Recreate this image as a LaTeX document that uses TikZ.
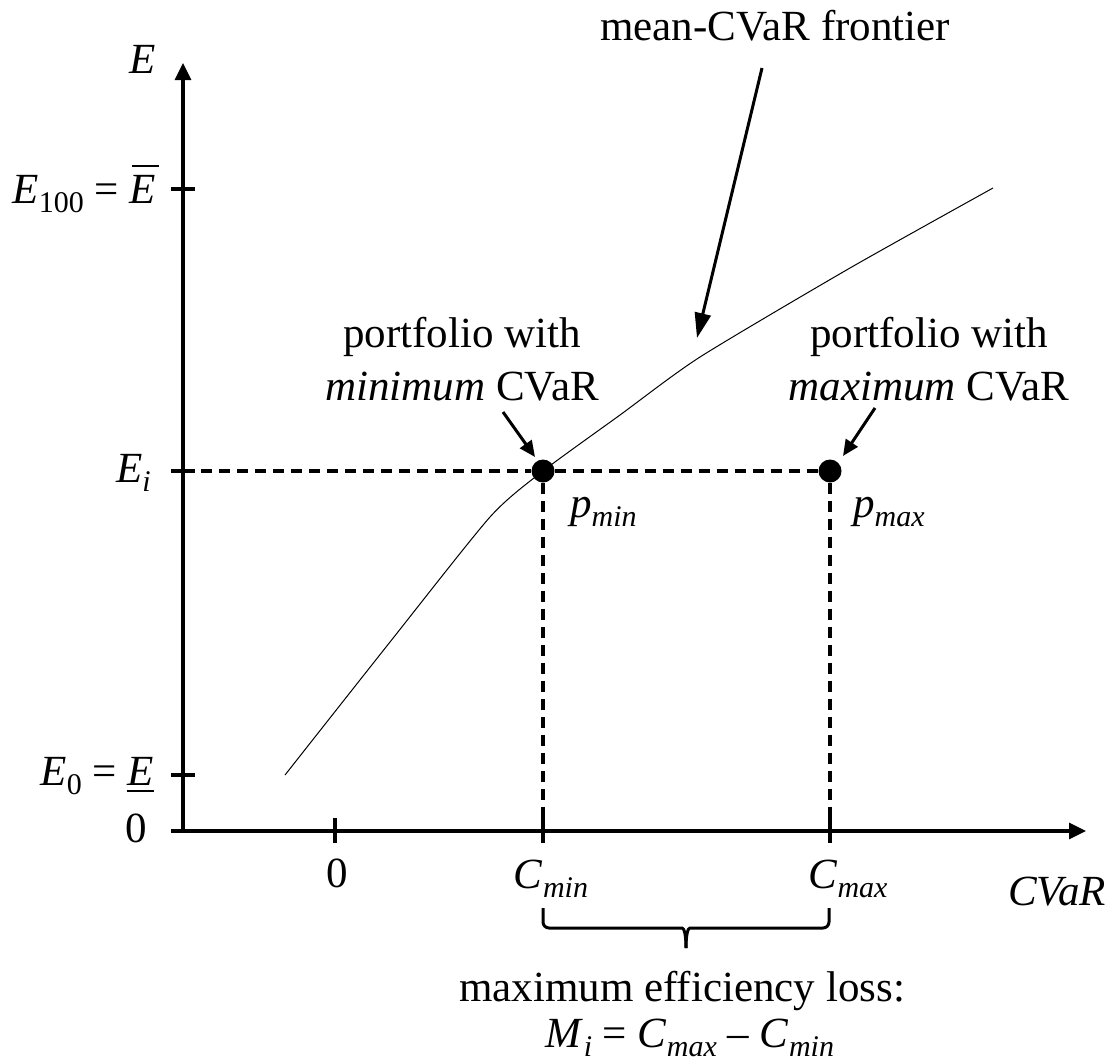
\documentclass[tikz,border=0pt]{standalone}
\usepackage{fontspec}
\setmainfont{Liberation Serif}
\usetikzlibrary{arrows.meta}
\newcommand\sbs[1]{\raisebox{-9pt}{\fontsize{30}{30}\selectfont #1}}
\newcommand\isbs[1]{\raisebox{-9pt}{\fontsize{30}{30}\selectfont\itshape #1}}
\newcommand\ovE{\rlap{\hspace{2pt}\rule[36pt]{27pt}{2.2pt}}\textit{E}}
\newcommand\unE{\rlap{\hspace{-1pt}\rule[-7pt]{27pt}{2.2pt}}\textit{E}}
\begin{document}
\begin{tikzpicture}[x=1pt,y=-1pt,
  lbl/.style={inner sep=0pt, font=\fontsize{43}{52}\selectfont},
  axisline/.style={line width=3.2pt, -{Triangle[length=17pt,width=16pt]}},
  tickline/.style={line width=3.2pt},
  guide/.style={line width=3.2pt, dash pattern=on 11pt off 7pt},
  frontier/.style={line width=1pt},
  pointer/.style={line width=3pt, -{Triangle[length=16pt,width=14pt]}},
  bigpointer/.style={line width=3pt, -{Triangle[length=25pt,width=16pt]}},
  bracepath/.style={line width=3pt},
  dot/.style={circle, fill=black, inner sep=0pt, minimum size=23pt}]
\useasboundingbox (0,0) rectangle (1110,1063);

% axes
\coordinate (O) at (183,831);
\coordinate (xs) at (171,831);
\coordinate (xe) at (1086,831);
\coordinate (ye) at (183,63);
\draw[axisline] (O) -- (ye);
\draw[axisline] (xs) -- (xe);

% ticks
\foreach \yy in {189,471,775} \draw[tickline] (171,\yy) -- (195,\yy);
\foreach \xx in {335,543,830} \draw[tickline] (\xx,818) -- (\xx,843);

% frontier
\draw[frontier] plot[smooth, tension=0.4] coordinates {(285,775) (390,642) (490,517) (543,471) (620,415) (700,357) (850,268) (993,188)};

% points
\node[dot] (pmin) at (543,471) {};
\node[dot] (pmax) at (830,471) {};
\coordinate (Ei) at (183,471);
\coordinate (Cmin) at (543,831);
\coordinate (Cmax) at (830,831);
\draw[guide] (Ei) -- (pmin);
\draw[guide] (pmin) -- (pmax);
\draw[guide] (pmin) -- (Cmin);
\draw[guide] (pmax) -- (Cmax);

% axis labels
\node[lbl, anchor=base east] (lE) at (156,73) {\textit{E}};
\node[lbl, anchor=base east] (lE100) at (156,203) {\textit{E}\sbs{100} = \ovE};
\node[lbl, anchor=base east] (lEi) at (151,482) {\textit{E}\isbs{i}};
\node[lbl, anchor=base east] (lE0) at (154,785) {\textit{E}\sbs{0} = \unE};
\node[lbl, anchor=base east] (lzy) at (147,842) {0};
\node[lbl, anchor=base] (lzx) at (337,887) {0};
\node[lbl, anchor=base] (lCmin) at (551,888) {\textit{C}\isbs{min}};
\node[lbl, anchor=base] (lCmax) at (848,888) {\textit{C}\isbs{max}};
\node[lbl, anchor=base west] (lCVaR) at (1008,905) {\textit{CVaR}};
\node[lbl, anchor=base west] (lpmin) at (570,517) {\textit{p}\isbs{min}};
\node[lbl, anchor=base west] (lpmax) at (853,517) {\textit{p}\isbs{max}};

% annotations
\node[lbl, anchor=base] (lfront) at (775,40) {mean-CVaR frontier};
\node[lbl, anchor=base] (lmin1) at (462,347) {portfolio with};
\node[lbl, anchor=base] (lmin2) at (462,400) {\textit{minimum} CVaR};
\node[lbl, anchor=base] (lmax1) at (929,347) {portfolio with};
\node[lbl, anchor=base] (lmax2) at (929,400) {\textit{maximum} CVaR};
\node[lbl, anchor=base] (lloss) at (682,1001) {maximum efficiency loss:};
\node[lbl, anchor=base] (lM) at (690,1047) {\textit{M}\isbs{i} = \textit{C}\isbs{max} – \textit{C}\isbs{min}};

% pointers
\coordinate (fa) at (762,68);
\coordinate (fb) at (697,338);
\draw[bigpointer] (fa) -- (fb);
\coordinate (mina) at (503,412);
\coordinate (minb) at (535,457);
\draw[pointer] (mina) -- (minb);
\coordinate (maxa) at (875,408);
\coordinate (maxb) at (843,456);
\draw[pointer] (maxa) -- (maxb);

% brace
\coordinate (bl) at (543,908);
\coordinate (br) at (829,908);
\coordinate (btip) at (686,948);
\draw[bracepath, rounded corners=6pt] (bl) |- (676,928) [sharp corners] .. controls (684,928) and (686,934) .. (btip);
\draw[bracepath, rounded corners=6pt] (br) |- (696,928) [sharp corners] .. controls (688,928) and (686,934) .. (btip);
\end{tikzpicture}
\end{document}
